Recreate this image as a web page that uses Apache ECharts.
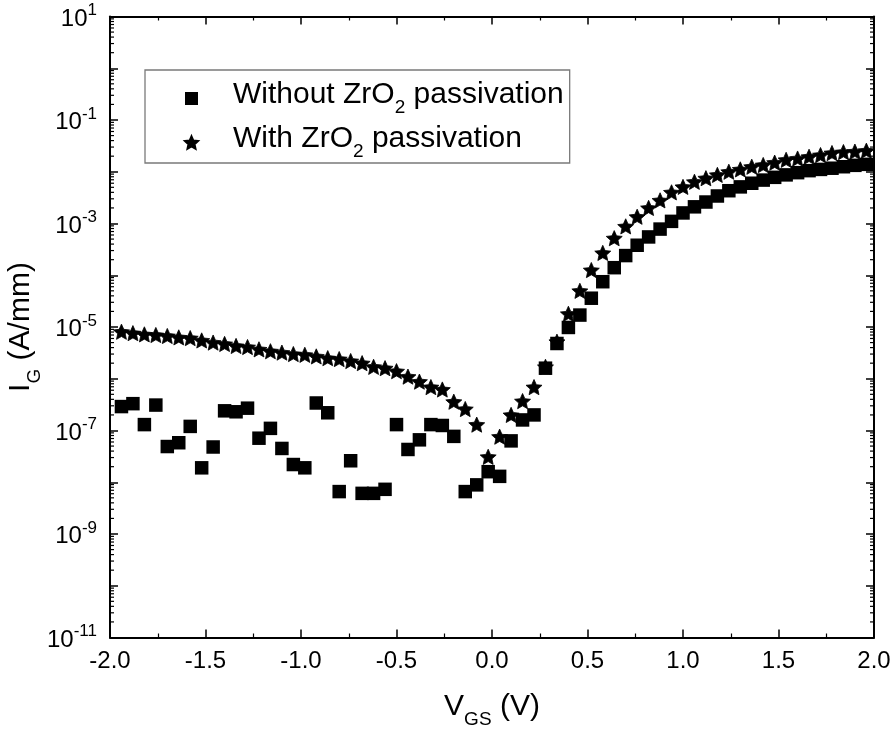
<!DOCTYPE html>
<html>
<head>
<meta charset="utf-8">
<script src="https://cdn.jsdelivr.net/npm/echarts@6/dist/echarts.min.js"></script>
<style>
  html, body { margin: 0; padding: 0; background: #fff; }
  #chart { width: 896px; height: 736px; }
</style>
</head>
<body>
<div id="chart"></div>
<script>
// Gate voltage sweep (V)
const vgs = [
  -1.94, -1.88, -1.82, -1.76, -1.70, -1.64, -1.58, -1.52, -1.46, -1.40,
  -1.34, -1.28, -1.22, -1.16, -1.10, -1.04, -0.98, -0.92, -0.86, -0.80,
  -0.74, -0.68, -0.62, -0.56, -0.50, -0.44, -0.38, -0.32, -0.26, -0.20,
  -0.14, -0.08, -0.02, 0.04, 0.10, 0.16, 0.22, 0.28, 0.34, 0.40,
  0.46, 0.52, 0.58, 0.64, 0.70, 0.76, 0.82, 0.88, 0.94, 1.00,
  1.06, 1.12, 1.18, 1.24, 1.30, 1.36, 1.42, 1.48, 1.54, 1.60,
  1.66, 1.72, 1.78, 1.84, 1.90, 1.96
];

// Gate current without passivation (A/mm)
const igWithout = [
  2.9e-7, 3.3e-7, 1.3e-7, 3.1e-7, 4.9e-8, 5.8e-8, 1.2e-7, 1.9e-8, 4.8e-8, 2.4e-7,
  2.3e-7, 2.7e-7, 7.1e-8, 1.1e-7, 4.5e-8, 2.2e-8, 1.9e-8, 3.4e-7, 2.2e-7, 6.6e-9,
  2.6e-8, 6.1e-9, 6.1e-9, 7.3e-9, 1.3e-7, 4.3e-8, 6.6e-8, 1.3e-7, 1.25e-7, 7.7e-8,
  6.6e-9, 8.9e-9, 1.6e-8, 1.3e-8, 6.3e-8, 1.6e-7, 2.0e-7, 1.6e-6, 4.8e-6, 9.8e-6,
  1.7e-5, 3.6e-5, 7.5e-5, 1.4e-4, 2.4e-4, 3.8e-4, 5.5e-4, 7.8e-4, 1.1e-3, 1.6e-3,
  2.1e-3, 2.6e-3, 3.4e-3, 4.3e-3, 5.1e-3, 6.0e-3, 6.9e-3, 7.8e-3, 8.7e-3, 9.6e-3,
  1.05e-2, 1.11e-2, 1.17e-2, 1.25e-2, 1.33e-2, 1.39e-2
];

// Gate current with ZrO2 passivation (A/mm)
const igWith = [
  8.1e-6, 7.6e-6, 7.2e-6, 7.0e-6, 6.7e-6, 6.3e-6, 6.1e-6, 5.5e-6, 5.0e-6, 4.7e-6,
  4.3e-6, 4.1e-6, 3.7e-6, 3.4e-6, 3.2e-6, 3.0e-6, 2.9e-6, 2.7e-6, 2.5e-6, 2.4e-6,
  2.2e-6, 2.0e-6, 1.7e-6, 1.6e-6, 1.4e-6, 1.1e-6, 8.8e-7, 6.9e-7, 6.2e-7, 3.6e-7,
  2.6e-7, 1.3e-7, 3.1e-8, 7.6e-8, 2.0e-7, 3.7e-7, 6.9e-7, 1.7e-6, 5.2e-6, 1.8e-5,
  5.0e-5, 1.26e-4, 2.7e-4, 5.2e-4, 8.8e-4, 1.35e-3, 2.0e-3, 2.8e-3, 4.0e-3, 5.1e-3,
  6.4e-3, 7.5e-3, 8.7e-3, 1.0e-2, 1.11e-2, 1.25e-2, 1.35e-2, 1.5e-2, 1.7e-2, 1.8e-2,
  1.95e-2, 2.1e-2, 2.3e-2, 2.4e-2, 2.45e-2, 2.55e-2
];

const seriesNames = ['Without ZrO2 passivation', 'With ZrO2 passivation'];

// Axis ranges and labelled decades (exponents of 10)
const xRange = [-2, 2];
const xStep = 0.5;
const yExpRange = [-11, 1];
const yLabelExponents = [1, -1, -3, -5, -7, -9, -11];

const FONT = '"Liberation Sans", Arial, Helvetica, sans-serif';

// Five-pointed star outline used as a marker
function starPath(inner) {
  const pts = [];
  for (let i = 0; i < 10; i++) {
    const a = (-90 + 36 * i) * Math.PI / 180;
    const r = i % 2 === 0 ? 10 : 10 * inner;
    pts.push((r * Math.cos(a)).toFixed(3) + ' ' + (r * Math.sin(a)).toFixed(3));
  }
  return 'path://M' + pts.join(' L') + ' Z';
}
const STAR = starPath(0.47);

const toPoints = ys => vgs.map((v, i) => [v, Math.log10(ys[i])]);

// Minor ticks at 2..9 within each decade, as exponent positions
const minorTickPos = [];
for (let e = yExpRange[0]; e < yExpRange[1]; e++) {
  for (let d = 2; d <= 9; d++) minorTickPos.push([xRange[0], e + Math.log10(d)]);
}

const chem = s => s.replace('ZrO2', 'ZrO}{s|2}{t|');
const legendRich = {
  g: { width: 30, fontSize: 30, fontFamily: FONT },
  t: { fontSize: 30, fontFamily: FONT, color: '#000', padding: [0, 0, 7, 0], verticalAlign: 'bottom' },
  s: { fontSize: 19, fontFamily: FONT, color: '#000', verticalAlign: 'bottom' }
};

const tickStyle = { show: true, inside: true, length: 8, lineStyle: { color: '#000', width: 1.5 } };
const lineStyle = { show: true, onZero: false, lineStyle: { color: '#000', width: 2 } };

const xAxisBase = {
  type: 'value', min: xRange[0], max: xRange[1], interval: xStep,
  axisLine: lineStyle, axisTick: tickStyle,
  minorTick: { show: true, splitNumber: 2, length: 4, lineStyle: { color: '#000', width: 1.2 } },
  splitLine: { show: false }, minorSplitLine: { show: false }
};
const yAxisBase = {
  type: 'value', min: yExpRange[0], max: yExpRange[1], interval: 1,
  axisLine: lineStyle, axisTick: tickStyle,
  splitLine: { show: false }
};

const titleRich = {
  v: { fontSize: 30, fontFamily: FONT, color: '#000', padding: [0, 0, 8, 0], verticalAlign: 'bottom' },
  s: { fontSize: 19, fontFamily: FONT, color: '#000', verticalAlign: 'bottom' }
};

const chart = echarts.init(document.getElementById('chart'), null, { renderer: 'canvas' });

chart.setOption({
  animation: false,
  backgroundColor: '#fff',
  grid: { left: 110, right: 22, top: 16.5, bottom: 98.5, containLabel: false, outerBoundsMode: 'none' },
  legend: {
    left: 145, top: 70,
    orient: 'vertical',
    selectedMode: false,
    borderColor: '#7a7a7a', borderWidth: 1.3,
    padding: [10, 6, 2, 39],
    itemGap: 7,
    itemWidth: 13, itemHeight: 13,
    data: [
      { name: seriesNames[0], icon: 'rect' },
      { name: seriesNames[1], icon: STAR }
    ],
    formatter: name => '{g| }{t|' + chem(name) + '}',
    textStyle: { color: '#000', fontFamily: FONT, fontSize: 30, rich: legendRich }
  },
  xAxis: [
    Object.assign({}, xAxisBase, {
      position: 'bottom',
      axisLabel: {
        show: true, margin: 12, color: '#000', fontFamily: FONT, fontSize: 24,
        formatter: v => v.toFixed(1)
      },
      name: '{v|V}{s|GS}{v| (V)}',
      nameLocation: 'middle', nameGap: 54,
      nameTextStyle: { rich: titleRich }
    }),
    Object.assign({}, xAxisBase, { position: 'top', axisLabel: { show: false } })
  ],
  yAxis: [
    Object.assign({}, yAxisBase, {
      position: 'left',
      axisLabel: {
        show: true, margin: 13, color: '#000',
        formatter: v => yLabelExponents.indexOf(v) >= 0 ? '{b|10}{e|' + v + '}' : '',
        rich: {
          b: { fontSize: 24, fontFamily: FONT, color: '#000', verticalAlign: 'bottom' },
          e: { fontSize: 17, fontFamily: FONT, color: '#000', padding: [0, 0, 12, 0], verticalAlign: 'bottom' }
        }
      },
      name: '{v|I}{s|G}{v| (A/mm)}',
      nameLocation: 'middle', nameGap: 66, nameRotate: 90,
      nameMoveOverlap: false,
      nameTextStyle: { rich: titleRich }
    }),
    Object.assign({}, yAxisBase, { position: 'right', axisLabel: { show: false } })
  ],
  series: [
    {
      name: 'log-minor-ticks',
      type: 'custom',
      silent: true,
      clip: false,
      xAxisIndex: 0, yAxisIndex: 0,
      data: minorTickPos,
      renderItem: (params, api) => {
        const pos = api.value(1);
        const l = api.coord([xRange[0], pos]);
        const r = api.coord([xRange[1], pos]);
        const st = { stroke: '#000', lineWidth: 1.2 };
        return {
          type: 'group',
          children: [
            { type: 'line', shape: { x1: l[0], y1: l[1], x2: l[0] + 4, y2: l[1] }, style: st },
            { type: 'line', shape: { x1: r[0] - 4, y1: r[1], x2: r[0], y2: r[1] }, style: st }
          ]
        };
      }
    },
    {
      name: seriesNames[0],
      type: 'scatter',
      xAxisIndex: 0, yAxisIndex: 0,
      symbol: 'rect', symbolSize: 13.5,
      itemStyle: { color: '#000', opacity: 1 },
      data: toPoints(igWithout)
    },
    {
      name: seriesNames[1],
      type: 'scatter',
      xAxisIndex: 0, yAxisIndex: 0,
      symbol: STAR, symbolSize: [16, 15.2],
      itemStyle: { color: '#000', opacity: 1, borderColor: '#000', borderWidth: 0.8 },
      data: toPoints(igWith)
    }
  ]
});
</script>
</body>
</html>
